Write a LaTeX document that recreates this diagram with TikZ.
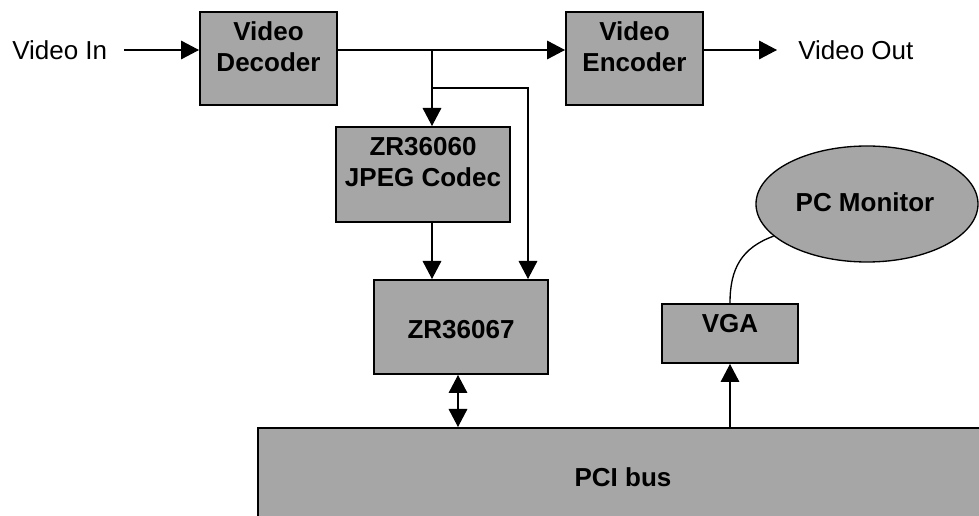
\documentclass[tikz,border=0pt]{standalone}
\usepackage{fontspec}
\setmainfont{Liberation Sans}
\usetikzlibrary{arrows.meta,shapes.geometric}
\definecolor{boxgray}{RGB}{166,166,166}
\begin{document}
\begin{tikzpicture}[x=0.75pt,y=-0.75pt,
  box/.style={draw=black, line width=1.5pt, fill=boxgray, inner sep=0pt},
  lbl/.style={font=\fontsize{19.5}{23.5}\selectfont\bfseries, align=center, inner sep=0pt, anchor=base},
  plaintxt/.style={font=\fontsize{19.5}{23.5}\selectfont, inner sep=0pt, anchor=west},
  tip/.tip={Triangle[length=13.5pt,width=14pt]},
  conn/.style={line width=0.8pt, -tip},
  thickconn/.style={line width=1.5pt, -{Triangle[length=13.5pt,width=14pt,line width=0.8pt]}},
]
\useasboundingbox (0,0) rectangle (979,516);
\clip (0,0) rectangle (979,516);

% boxes
\node[box, minimum width=102.75pt, minimum height=69.75pt] (dec) at (268.5,58.5) {};
\node[box, minimum width=102.75pt, minimum height=69.75pt] (enc) at (634.5,58.5) {};
\node[box, minimum width=130.5pt, minimum height=71.25pt] (codec) at (423,174.5) {};
\node[box, minimum width=130.5pt, minimum height=70.5pt] (zr) at (461,327) {};
\node[box, minimum width=102pt, minimum height=44.25pt] (vga) at (730,333.5) {};
\node[box, minimum width=556.5pt, minimum height=84pt] (pci) at (629,484) {};
\node[ellipse, draw=black, line width=1pt, fill=boxgray, inner sep=0pt,
      minimum width=166.5pt, minimum height=87pt] (mon) at (867,204) {};

% texts (base = baseline of the last line)
\node[lbl] (decT) at (268.5,71.5) {Video\\Decoder};
\node[lbl] (encT) at (634.5,71.5) {Video\\Encoder};
\node[lbl] (codT) at (423,186.5) {ZR36060\\JPEG Codec};
\node[lbl] (zrT) at (461,339) {ZR36067};
\node[lbl] (vgaT) at (730,332.5) {VGA};
\node[lbl] (pciT) at (623,487) {PCI bus};
\node[lbl] (monT) at (865,212) {PC Monitor};
\node[plaintxt] (inT) at (12,50) {Video In};
\node[plaintxt] (outT) at (798,50) {Video Out};

% helper coordinates
\coordinate (sig) at (0,50);
\coordinate (br) at (432,50);
\coordinate (tk) at (432,88);
\coordinate (tr) at (528,88);
\coordinate (dx) at (458,0);

% connectors
\draw[conn, shorten <=12.75pt] (inT.east) -- (dec.west |- sig);
\draw[conn] (dec.east |- sig) -- (enc.west |- sig);
\draw[conn, shorten >=15.75pt] (enc.east |- sig) -- (outT.west);
\draw[conn] (br) -- (br |- codec.north);
\draw[thickconn] (tk) -- (tr) -- (tr |- zr.north);
\draw[conn] (codec.south -| br) -- (zr.north -| br);
\draw[line width=0.8pt, tip-tip] (zr.south -| dx) -- (pci.north -| dx);
\draw[conn] (pci.north -| vga) -- (vga.south);
\draw[line width=1pt] (vga.north) to[out=90, in=200, looseness=1.1] (mon.199);
\end{tikzpicture}
\end{document}
